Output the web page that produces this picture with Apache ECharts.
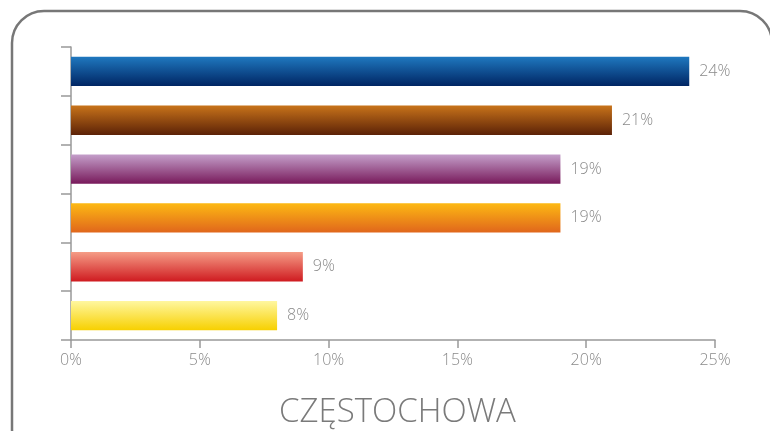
<!DOCTYPE html>
<html>
<head>
<meta charset="utf-8">
<script src="https://cdn.jsdelivr.net/npm/echarts@6/dist/echarts.min.js"></script>
<style>
  html, body { margin: 0; padding: 0; background: #fff; }
  #main { width: 770px; height: 431px; }
</style>
</head>
<body>
<div id="main"></div>
<script>
const categories = ['A', 'B', 'C', 'D', 'E', 'F']
const values = [24, 21, 19, 19, 9, 8]
const xTicks = [0, 5, 10, 15, 20, 25]
const barColors = [
  ['#1f78bf', '#002563'],
  ['#c8731a', '#5c2207'],
  ['#c49fca', '#781a5b'],
  ['#fdb913', '#e0661c'],
  ['#f59c86', '#cf1b20'],
  ['#fff7a0', '#f7d000']
]

const chart = echarts.init(document.getElementById('main'), null, { renderer: 'canvas' })

function grad(pair) {
  return new echarts.graphic.LinearGradient(0, 0, 0, 1, [
    { offset: 0, color: pair[0] },
    { offset: 1, color: pair[1] }
  ])
}

const option = {
  animation: false,
  textStyle: { fontFamily: 'Open Sans' },
  title: {
    text: 'CZĘSTOCHOWA',
    left: 274,
    top: 391,
    textStyle: { fontSize: 33, fontWeight: 300, color: '#7a7a7a', fontFamily: 'Open Sans' }
  },
  graphic: [{
    type: 'rect',
    shape: { x: 12, y: 11, width: 760, height: 450, r: 32 },
    style: { fill: 'none', stroke: '#777', lineWidth: 2.5 },
    silent: true
  }],
  grid: { left: 71, right: 55, top: 47, bottom: 91 },
  xAxis: {
    type: 'value',
    min: 0,
    max: 25,
    interval: 5,
    axisLine: { show: true, lineStyle: { color: '#999', width: 1.5 } },
    axisTick: { show: true, length: 8, lineStyle: { color: '#999', width: 1.5 } },
    splitLine: { show: false },
    axisLabel: {
      color: '#8a8a8a',
      fontSize: 16,
      fontWeight: 300,
      margin: 12,
      formatter: v => xTicks.includes(v) ? v + '%' : ''
    }
  },
  yAxis: {
    type: 'category',
    inverse: true,
    data: categories,
    axisLine: { show: true, lineStyle: { color: '#999', width: 1.5 } },
    axisTick: { show: true, length: 10, lineStyle: { color: '#999', width: 1.5 } },
    axisLabel: { show: false }
  },
  series: [{
    type: 'bar',
    barCategoryGap: '40%',
    data: values.map((v, i) => ({ value: v, itemStyle: { color: grad(barColors[i]) } })),
    label: {
      show: true,
      position: 'right',
      distance: 10,
      color: '#8a8a8a',
      fontSize: 16,
      fontWeight: 300,
      formatter: p => p.value + '%'
    }
  }]
}

chart.setOption(option)
</script>
</body>
</html>
